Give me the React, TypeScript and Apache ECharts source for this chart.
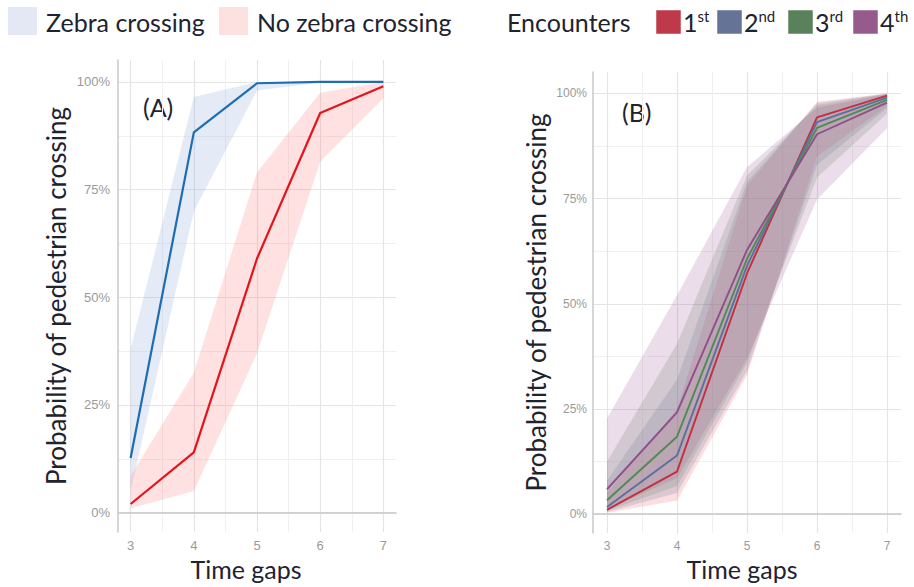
import React, { useEffect, useRef } from 'react';
import * as echarts from 'echarts';

// ---------- data ----------
const gaps = [3, 4, 5, 6, 7];
const majorX = [3, 4, 5, 6, 7];
const minorX = [3.5, 4.5, 5.5, 6.5];
const majorY = [0, 0.25, 0.5, 0.75, 1];
const minorY = [0.125, 0.375, 0.625, 0.875];

// Panel A
const zebraMean = [0.127, 0.883, 0.997, 1.0, 1.0];
const zebraLow = [0.05, 0.7, 0.98, 0.999, 1.0];
const zebraHigh = [0.38, 0.965, 1.0, 1.0, 1.0];
const noZebraMean = [0.02, 0.14, 0.59, 0.928, 0.99];
const noZebraLow = [0.01, 0.05, 0.37, 0.815, 0.962];
const noZebraHigh = [0.085, 0.325, 0.79, 0.975, 1.0];

// Panel B
const encounterNames = ['1st', '2nd', '3rd', '4th'];
const encMean = [
  [0.01, 0.101, 0.572, 0.943, 0.995],
  [0.017, 0.139, 0.59, 0.932, 0.99],
  [0.033, 0.184, 0.607, 0.918, 0.985],
  [0.059, 0.242, 0.628, 0.903, 0.978],
];
const encLow = [
  [0.003, 0.032, 0.33, 0.85, 0.97],
  [0.005, 0.05, 0.34, 0.83, 0.965],
  [0.008, 0.067, 0.36, 0.8, 0.952],
  [0.012, 0.085, 0.37, 0.748, 0.917],
];
const encHigh = [
  [0.05, 0.25, 0.78, 0.98, 1.0],
  [0.08, 0.32, 0.79, 0.977, 1.0],
  [0.125, 0.405, 0.805, 0.972, 0.999],
  [0.227, 0.52, 0.825, 0.966, 0.998],
];

const legendA = ['Zebra crossing', 'No zebra crossing'];
const legendTitleB = 'Encounters';
const xTitle = 'Time gaps';
const yTitle = 'Probability of pedestrian crossing';

// ---------- styles ----------
const encLineColors = ['#c22f3f', '#5b6fa0', '#4f8a55', '#8e4f8b'];
const encFillColors = ['rgba(240,90,100,0.2)', 'rgba(95,115,160,0.2)', 'rgba(95,135,95,0.2)', 'rgba(160,85,150,0.2)'];
const encLegendColors = ['#be3a4b', '#647396', '#5a825a', '#965a8c'];
const TITLE_FONT = 'Lato, "Open Sans", sans-serif';
const TICK_FONT = '"Liberation Sans", Arial, sans-serif';
const TEXT_DARK = '#1e2330';

const pairs = (ys: number[]) => gaps.map((x, i) => [x, ys[i]]);

function axesFor(grid: number, labelSize: number, yMargin: number, yNameGap: number) {
  const pct = (v: number) => `${Math.round(v * 100)}%`;
  const xMain = {
    type: 'value', gridIndex: grid, min: 2.8, max: 7.2,
    axisLine: { show: true, lineStyle: { color: '#c8c8c8', width: 1.5 } },
    axisTick: { show: false, customValues: majorX },
    axisLabel: { customValues: majorX, color: '#9a9a9a', fontSize: labelSize, fontFamily: TICK_FONT, margin: 7 },
    splitLine: { show: true, customValues: majorX, lineStyle: { color: '#e4e4e4', width: 1.2 } },
    name: xTitle, nameLocation: 'middle', nameGap: 20,
    nameTextStyle: { fontSize: 25, fontFamily: TITLE_FONT, color: TEXT_DARK, padding: [0, grid === 0 ? 22 : 10, 0, 0] },
  };
  const xMinor = {
    type: 'value', gridIndex: grid, min: 2.8, max: 7.2, position: 'top',
    axisLine: { show: false }, axisLabel: { show: false },
    axisTick: { show: false, customValues: minorX },
    splitLine: { show: true, customValues: minorX, lineStyle: { color: '#f0f0f0', width: 1 } },
  };
  const yMain = {
    type: 'value', gridIndex: grid, min: -0.045, max: 1.051,
    axisLine: { show: true, lineStyle: { color: '#c8c8c8', width: 1.5 } },
    axisTick: { show: false, customValues: majorY },
    axisLabel: { customValues: majorY, formatter: pct, color: '#9a9a9a', fontSize: labelSize, fontFamily: TICK_FONT, margin: yMargin },
    splitLine: { show: true, customValues: majorY, lineStyle: { color: '#e4e4e4', width: 1.2 } },
    name: yTitle, nameLocation: 'middle', nameRotate: 90, nameGap: yNameGap,
    nameTextStyle: { fontSize: 26, fontFamily: TITLE_FONT, color: TEXT_DARK },
  };
  const yMinor = {
    type: 'value', gridIndex: grid, min: -0.045, max: 1.051, position: 'right',
    axisLine: { show: false }, axisLabel: { show: false },
    axisTick: { show: false, customValues: minorY },
    splitLine: { show: true, customValues: minorY, lineStyle: { color: '#f0f0f0', width: 1 } },
  };
  return { x: [xMain, xMinor], y: [yMain, yMinor] };
}

function band(id: string, xi: number, yi: number, lo: number[], hi: number[], fill: string) {
  return {
    type: 'custom', name: id, xAxisIndex: xi, yAxisIndex: yi, silent: true, z: 2,
    data: gaps.map((x, i) => [x, lo[i], hi[i]]),
    encode: { x: 0, y: [1, 2] },
    renderItem: (params: any, api: any) => {
      if (params.dataIndex !== 0) return null;
      const upper = gaps.map((x, i) => api.coord([x, hi[i]]));
      const lower = gaps.map((x, i) => api.coord([x, lo[i]])).reverse();
      return { type: 'polygon', shape: { points: upper.concat(lower) }, style: { fill } };
    },
  };
}

function meanLine(name: string, xi: number, yi: number, ys: number[], color: string, width: number) {
  return {
    type: 'line', name, xAxisIndex: xi, yAxisIndex: yi, data: pairs(ys), symbol: 'none',
    lineStyle: { color, width }, z: 5,
  };
}

export default function App() {
  const ref = useRef<HTMLDivElement>(null);
  useEffect(() => {
    if (!ref.current) return;
    const chart = echarts.init(ref.current, undefined, { renderer: 'svg' });
    const a = axesFor(0, 13, 8, 49);
    const b = axesFor(1, 12, 6, 44);

    const series: any[] = [
      band('zebra', 0, 0, zebraLow, zebraHigh, 'rgba(150,170,222,0.25)'),
      band('nozebra', 0, 0, noZebraLow, noZebraHigh, 'rgba(255,128,128,0.24)'),
      meanLine(legendA[0], 0, 0, zebraMean, '#1d6db2', 2.2),
      meanLine(legendA[1], 0, 0, noZebraMean, '#e3141c', 2.2),
    ];
    encounterNames.forEach((n, i) => {
      series.push(band('enc' + i, 2, 2, encLow[i], encHigh[i], encFillColors[i]));
    });
    encounterNames.forEach((n, i) => {
      series.push(meanLine(n, 2, 2, encMean[i], encLineColors[i], 1.9));
    });

    const legendGraphics: any[] = [
      { type: 'rect', shape: { x: 8, y: 7, width: 29, height: 28 }, style: { fill: '#e4e8f5' } },
      { type: 'text', x: 46, y: 22, style: { text: legendA[0], font: `25px ${TITLE_FONT}`, fill: TEXT_DARK, verticalAlign: 'middle' } },
      { type: 'rect', shape: { x: 219, y: 7, width: 29, height: 28 }, style: { fill: '#fde1e1' } },
      { type: 'text', x: 257, y: 22, style: { text: legendA[1], font: `25px ${TITLE_FONT}`, fill: TEXT_DARK, verticalAlign: 'middle' } },
      { type: 'text', x: 507, y: 22, style: { text: legendTitleB, font: `25px ${TITLE_FONT}`, fill: TEXT_DARK, verticalAlign: 'middle' } },
      { type: 'text', x: 143, y: 107, style: { text: '(A)', font: `25px ${TITLE_FONT}`, fill: TEXT_DARK, verticalAlign: 'middle' } },
      { type: 'text', x: 622, y: 112, style: { text: '(B)', font: `25px ${TITLE_FONT}`, fill: TEXT_DARK, verticalAlign: 'middle' } },
    ];
    const sqX = [656, 717, 788, 853];
    encounterNames.forEach((n, i) => {
      const num = n.slice(0, 1);
      const suf = n.slice(1);
      legendGraphics.push({ type: 'rect', shape: { x: sqX[i], y: 10, width: 25, height: 24 }, style: { fill: encLegendColors[i], stroke: '#ffffff', lineWidth: 0.5 } });
      legendGraphics.push({
        type: 'text', x: sqX[i] + 27, y: 22,
        style: {
          text: `{n|${num}}{s|${suf}}`, verticalAlign: 'middle', fill: TEXT_DARK,
          rich: {
            n: { fontSize: 25, fontFamily: TITLE_FONT, fill: TEXT_DARK, lineHeight: 28 },
            s: { fontSize: 15, fontFamily: TITLE_FONT, fill: TEXT_DARK, verticalAlign: 'top', lineHeight: 28, padding: [0, 0, 8, 0] },
          },
        },
      });
    });

    chart.setOption({
      animation: false,
      backgroundColor: '#ffffff',
      grid: [
        { left: 118, top: 60, width: 278, height: 472 },
        { left: 593, top: 72, width: 308, height: 461 },
      ],
      xAxis: [...a.x, ...b.x],
      yAxis: [...a.y, ...b.y],
      series,
      graphic: legendGraphics,
    });
    return () => chart.dispose();
  }, []);
  return <div ref={ref} style={{ position: 'fixed', left: 0, top: 0, width: 914, height: 587 }} />;
}
